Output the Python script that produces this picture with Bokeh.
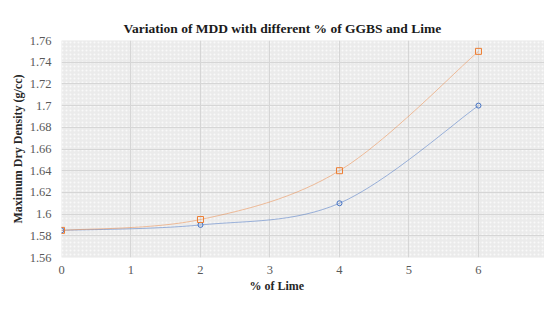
from bokeh.plotting import figure
from bokeh.models import (Range1d, FixedTicker, Title, Legend, LegendItem,
                          BoxAnnotation)
from bokeh.embed import file_html
from bokeh.resources import INLINE

# ---- data ----
lime_pct = [0, 2, 4, 6]
mdd_5_ggbs = [1.585, 1.59, 1.61, 1.70]
mdd_10_ggbs = [1.585, 1.595, 1.64, 1.75]
series_names = ["5% GGBS", "10% GGBS"]
x_ticks = [0, 1, 2, 3, 4, 5, 6]
y_ticks = [1.56, 1.58, 1.60, 1.62, 1.64, 1.66, 1.68, 1.70, 1.72, 1.74, 1.76]
y_tick_labels = ["1.56", "1.58", "1.6", "1.62", "1.64", "1.66", "1.68", "1.7", "1.72", "1.74", "1.76"]
title_text = "Variation of MDD with different % of GGBS and Lime"
x_title = "% of Lime"
y_title = "Maximum Dry Density (g/cc)"

FONT = "Liberation Serif"
BLUE = "#4472C4"
ORANGE = "#ED7D31"
TICK_COLOR = "#595959"

p = figure(frame_width=483, frame_height=217, output_backend="svg",
           toolbar_location=None,
           x_range=Range1d(0, 6.95), y_range=Range1d(1.56, 1.76),
           min_border_left=53, min_border_right=0, min_border_top=40,
           min_border_bottom=20, title=None)

p.background_fill_color = "#ededed"
p.border_fill_color = "white"
p.outline_line_color = None

bg = BoxAnnotation(fill_color="#ebebeb", fill_alpha=1.0, line_color=None,
                   hatch_pattern="dot", hatch_color="white", hatch_alpha=0.7,
                   hatch_scale=4, level="image")
p.add_layout(bg)

p.xgrid.ticker = FixedTicker(ticks=x_ticks)
p.ygrid.ticker = FixedTicker(ticks=y_ticks)
p.xgrid.grid_line_color = "#d6d6d6"
p.ygrid.grid_line_color = "#d6d6d6"

p.xaxis.ticker = FixedTicker(ticks=x_ticks)
p.yaxis.ticker = FixedTicker(ticks=y_ticks)
p.yaxis.major_label_overrides = {t: l for t, l in zip(y_ticks, y_tick_labels)}
for ax in (p.xaxis[0], p.yaxis[0]):
    ax.axis_line_color = None
    ax.major_tick_line_color = None
    ax.minor_tick_line_color = None
    ax.major_label_text_font = FONT
    ax.major_label_text_font_size = "12.5px"
    ax.major_label_text_color = TICK_COLOR
    ax.axis_label_text_font = FONT
    ax.axis_label_text_font_size = "12px"
    ax.axis_label_text_font_style = "bold"
    ax.axis_label_text_color = "#262626"
p.xaxis.major_label_standoff = 2
p.yaxis.major_label_standoff = 4
p.yaxis.axis_label = y_title
p.yaxis.axis_label_standoff = 2

# blank spacer on the far left so the plot area starts where the reference's does
p.add_layout(Title(text=" ", text_font_size="1px", text_color="white",
                   standoff=4), "left")


def smooth_segments(xs, ys):
    """Cubic Bezier control points for a smoothed line through the data points."""
    n = len(xs)
    out = {k: [] for k in ("x0", "y0", "x1", "y1", "cx0", "cy0", "cx1", "cy1")}
    for i in range(n - 1):
        xp, yp = (xs[i - 1], ys[i - 1]) if i > 0 else (xs[i], ys[i])
        xn, yn = (xs[i + 2], ys[i + 2]) if i + 2 < n else (xs[i + 1], ys[i + 1])
        out["x0"].append(xs[i]); out["y0"].append(ys[i])
        out["x1"].append(xs[i + 1]); out["y1"].append(ys[i + 1])
        out["cx0"].append(xs[i] + (xs[i + 1] - xp) / 6.0)
        out["cy0"].append(ys[i] + (ys[i + 1] - yp) / 6.0)
        out["cx1"].append(xs[i + 1] - (xn - xs[i]) / 6.0)
        out["cy1"].append(ys[i + 1] - (yn - ys[i]) / 6.0)
    return out


for ys, col, alpha in ((mdd_5_ggbs, BLUE, 0.5), (mdd_10_ggbs, ORANGE, 0.45)):
    s = smooth_segments(lime_pct, ys)
    p.bezier(x0=s["x0"], y0=s["y0"], x1=s["x1"], y1=s["y1"],
             cx0=s["cx0"], cy0=s["cy0"], cx1=s["cx1"], cy1=s["cy1"],
             line_color=col, line_alpha=alpha, line_width=1)

r5 = p.scatter(lime_pct, mdd_5_ggbs, marker="circle", size=5, fill_color="white",
               fill_alpha=0.0, line_color=BLUE, line_width=1)
r10 = p.scatter(lime_pct, mdd_10_ggbs, marker="square", size=6, fill_color="white",
                fill_alpha=0.0, line_color=ORANGE, line_width=1)

p.add_layout(Title(text=title_text, align="left", offset=62,
                   text_font=FONT, text_font_size="13.5px", text_font_style="bold",
                   text_color="#1a1a1a", standoff=9), "above")

p.add_layout(Title(text=x_title, align="left", offset=188,
                   text_font=FONT, text_font_size="12px", text_font_style="bold",
                   text_color="#262626", standoff=0), "below")

legend = Legend(items=[LegendItem(label=series_names[0], renderers=[r5]),
                       LegendItem(label=series_names[1], renderers=[r10])],
                orientation="horizontal", location="center",
                label_text_font=FONT, label_text_font_size="12px",
                label_text_color=TICK_COLOR, glyph_width=8, glyph_height=8,
                label_standoff=3, spacing=18, padding=0, margin=0,
                label_height=11,
                border_line_color=None, background_fill_alpha=0)
p.add_layout(legend, "below")

open("out.html", "w").write(file_html(p, INLINE))
